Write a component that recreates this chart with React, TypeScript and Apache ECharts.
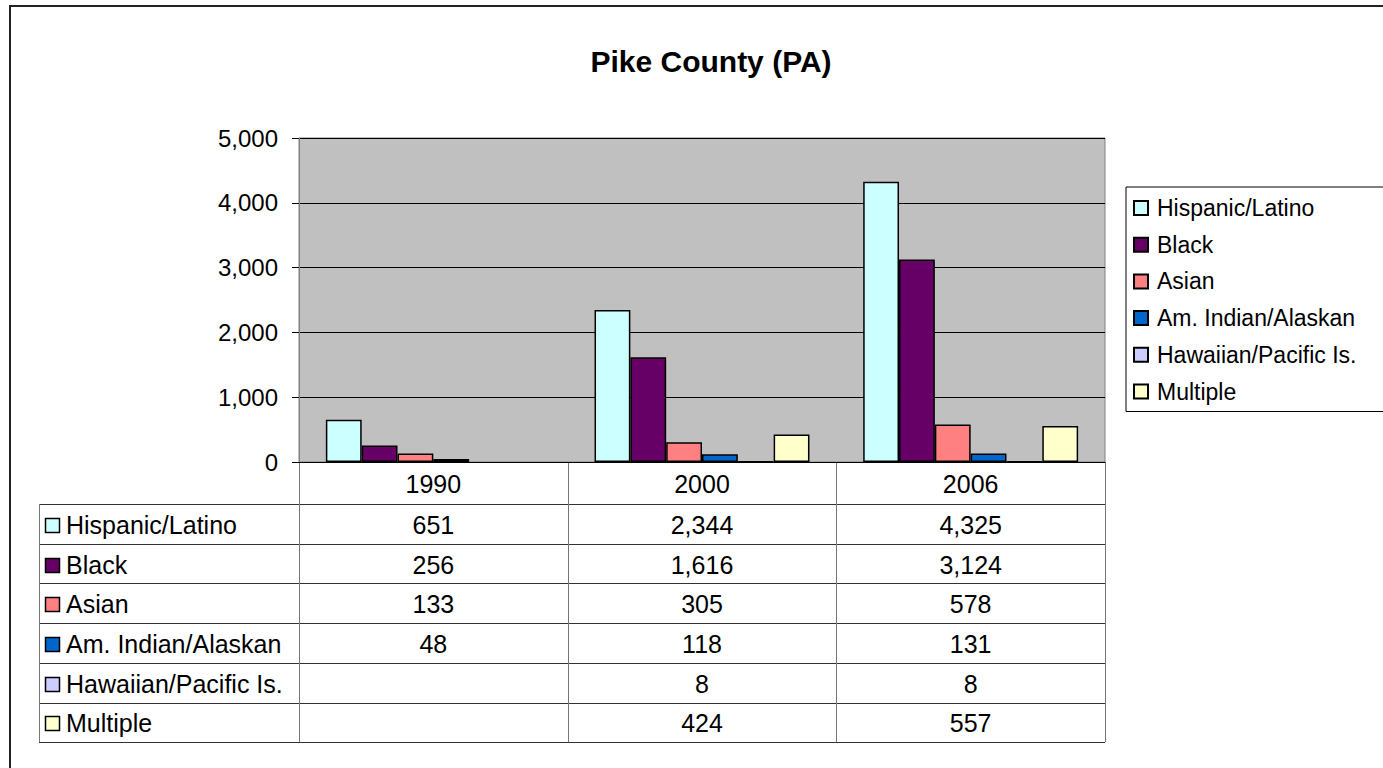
import React, { useEffect, useRef } from "react";
import * as echarts from "echarts";

const years = ["1990", "2000", "2006"];
const seriesNames = [
  "Hispanic/Latino",
  "Black",
  "Asian",
  "Am. Indian/Alaskan",
  "Hawaiian/Pacific Is.",
  "Multiple",
];
const hispanic = [651, 2344, 4325];
const black = [256, 1616, 3124];
const asian = [133, 305, 578];
const amIndian = [48, 118, 131];
const hawaiian = [null, 8, 8];
const multiple = [null, 424, 557];
const seriesValues = [hispanic, black, asian, amIndian, hawaiian, multiple];
const colors = ["#CCFFFF", "#660066", "#FF8080", "#0066CC", "#CCCCFF", "#FFFFCC"];

const FONT = "Liberation Sans, Arial, sans-serif";
const fmt = (v: number | null) => (v == null ? "" : v.toLocaleString("en-US"));

export default function App() {
  const ref = useRef<HTMLDivElement>(null);
  useEffect(() => {
    if (!ref.current) return;
    const chart = echarts.init(ref.current, undefined, { renderer: "svg" });
    const GRID_LEFT = 299;
    const GRID_RIGHT_X = 1105;
    const GRID_TOP = 138;
    const GRID_BOTTOM_Y = 462;
    const TABLE_FONT = 25;
    const option: any = {
      animation: false,
      backgroundColor: "#ffffff",
      textStyle: { fontFamily: FONT },
      title: {
        text: "Pike County (PA)",
        left: 706,
        textAlign: "center",
        top: 41,
        textStyle: { fontSize: 30, fontWeight: "bold", color: "#000", fontFamily: FONT },
      },
      legend: {
        orient: "vertical",
        left: 1126,
        top: 187,
        padding: [9, 30, 8, 7],
        itemWidth: 14,
        itemHeight: 14,
        itemGap: 12.7,
        borderColor: "#000",
        borderWidth: 1,
        backgroundColor: "#fff",
        icon: "rect",
        textStyle: { fontSize: 23, color: "#000", fontFamily: FONT, lineHeight: 24, padding: [0, 0, 0, 4] },
        data: seriesNames,
      },
      grid: {
        left: GRID_LEFT,
        top: GRID_TOP,
        width: GRID_RIGHT_X - GRID_LEFT,
        height: GRID_BOTTOM_Y - GRID_TOP,
        show: true,
        backgroundColor: "#C0C0C0",
        borderColor: "#808080",
        borderWidth: 1,
      },
      xAxis: {
        type: "category",
        data: years,
        axisLabel: { show: false },
        axisTick: { show: false },
        axisLine: { show: true, lineStyle: { color: "#000", width: 1 } },
      },
      yAxis: {
        type: "value",
        min: 0,
        max: 5000,
        interval: 1000,
        axisLabel: {
          fontSize: 24,
          color: "#000",
          margin: 21,
          fontFamily: FONT,
          formatter: (v: number) => v.toLocaleString("en-US"),
        },
        axisTick: { show: true, inside: false, length: 7, lineStyle: { color: "#000" } },
        axisLine: { show: true, lineStyle: { color: "#808080" } },
        splitLine: { show: true, lineStyle: { color: "#000", width: 1 } },
      },
      series: seriesNames.map((name, i) => ({
        name,
        type: "bar",
        data: seriesValues[i],
        barGap: "0%",
        barCategoryGap: "20%",
        itemStyle: { color: colors[i], borderColor: "#000", borderWidth: 1.5 },
      })),
    };
    chart.setOption(option);

    // Data table beneath the plot
    const centers = years.map((y) => chart.convertToPixel({ xAxisIndex: 0 }, y) as number);
    const band = centers[1] - centers[0];
    const colEdges = [centers[0] - band / 2, ...centers.map((c) => c + band / 2)];
    const axisY = chart.convertToPixel({ yAxisIndex: 0 }, 0) as number;
    const tableLeft = 39;
    const headerH = 42;
    const rowH = 39.7;
    const rowsTop = axisY + headerH;
    const tableBottom = rowsTop + rowH * seriesNames.length;
    const els: any[] = [];
    els.push({
      type: "rect",
      shape: { x: 10, y: 6, width: 1400, height: 800 },
      style: { fill: "none", stroke: "#222", lineWidth: 2 },
      silent: true,
      z: 100,
    });
    for (let r = 0; r <= seriesNames.length; r++) {
      const y = Math.round(rowsTop + r * rowH) + 0.5;
      els.push({
        type: "line",
        shape: { x1: tableLeft, y1: y, x2: colEdges[colEdges.length - 1], y2: y },
        style: { stroke: "#333", lineWidth: 1 },
        silent: true,
      });
    }
    colEdges.forEach((x) => {
      const xx = Math.round(x) + 0.5;
      els.push({
        type: "line",
        shape: { x1: xx, y1: axisY, x2: xx, y2: tableBottom },
        style: { stroke: "#777", lineWidth: 1 },
        silent: true,
      });
    });
    els.push({
      type: "line",
      shape: { x1: tableLeft + 0.5, y1: rowsTop, x2: tableLeft + 0.5, y2: tableBottom },
      style: { stroke: "#777", lineWidth: 1 },
      silent: true,
    });
    years.forEach((y, j) => {
      els.push({
        type: "text",
        x: centers[j],
        y: axisY + headerH / 2 + 1,
        style: { text: y, fontSize: TABLE_FONT, fontFamily: FONT, fill: "#000", align: "center", verticalAlign: "middle" },
        silent: true,
      });
    });
    seriesNames.forEach((name, i) => {
      const cy = rowsTop + rowH * i + rowH / 2 + 1;
      els.push({
        type: "rect",
        shape: { x: 45.5, y: Math.round(cy - 7) + 0.5, width: 14, height: 14 },
        style: { fill: colors[i], stroke: "#000", lineWidth: 1.5 },
        silent: true,
      });
      els.push({
        type: "text",
        x: 66,
        y: cy,
        style: { text: name, fontSize: TABLE_FONT, fontFamily: FONT, fill: "#000", align: "left", verticalAlign: "middle" },
        silent: true,
      });
      seriesValues[i].forEach((v, j) => {
        els.push({
          type: "text",
          x: centers[j],
          y: cy,
          style: { text: fmt(v), fontSize: TABLE_FONT, fontFamily: FONT, fill: "#000", align: "center", verticalAlign: "middle" },
          silent: true,
        });
      });
    });
    chart.setOption({ graphic: els });

    return () => chart.dispose();
  }, []);
  return (
    <div
      ref={ref}
      style={{ position: "fixed", left: 0, top: 0, width: 1383, height: 768 }}
    />
  );
}
